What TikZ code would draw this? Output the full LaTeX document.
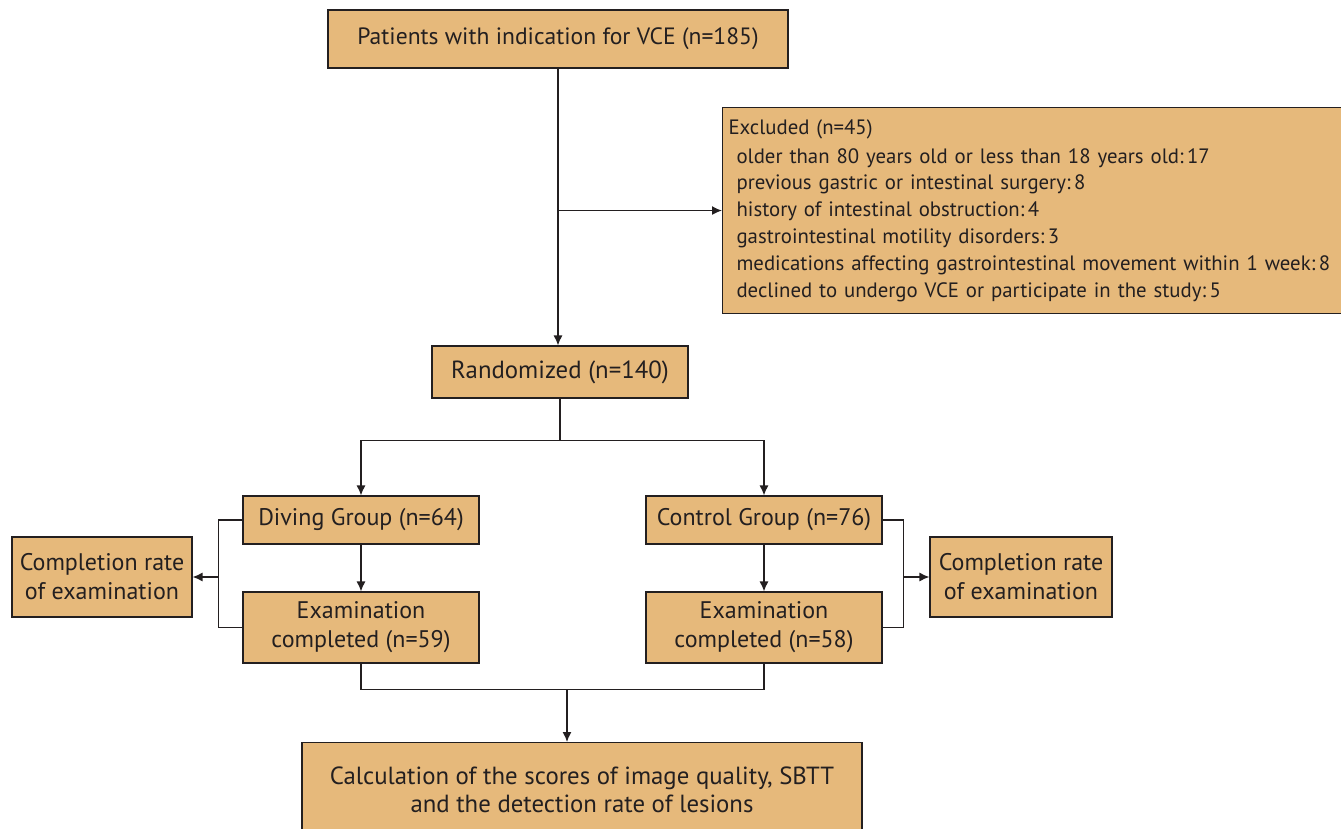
\documentclass[tikz,border=0pt]{standalone}
\usepackage{fontspec}
\setmainfont{PT Sans}
\usepackage{tikz}
\usetikzlibrary{arrows.meta, calc}
\usepackage{xcolor}
\definecolor{boxtan}{RGB}{230,185,123}
\definecolor{inkgray}{RGB}{35,31,32}
\tikzset{
    flowbox/.style={draw=inkgray, fill=boxtan, line width=0.55pt, align=center, text=inkgray, inner sep=2pt, font=\fontsize{12}{14.5}\selectfont},
    flowline/.style={draw=inkgray, line width=0.65pt},
    flowarrow/.style={flowline, -{Latex[length=5pt,width=4.5pt]}}
}

\begin{document}
\begin{tikzpicture}[x=0.5pt, y=-0.5pt]
    \useasboundingbox (0,0) rectangle (1341,829);
    % boxes
    \node[flowbox, minimum width=230pt, minimum height=29pt, font=\fontsize{11.8}{14.5}\selectfont] (patients) at (558,39) {Patients with indication for VCE (n=185)};
    \node[flowbox, anchor=north west, minimum width=330pt, minimum height=103pt, align=left, text width=324pt, inner sep=1pt, font=\fontsize{10.4}{13.4}\selectfont] (excl) at (722,107)
        {Excluded (n=45)\\[1pt]
         \hspace*{4pt}older than 80 years old or less than 18 years old:\,17\\
         \hspace*{4pt}previous gastric or intestinal surgery:\,8\\
         \hspace*{4pt}history of intestinal obstruction:\,4\\
         \hspace*{4pt}gastrointestinal motility disorders:\,3\\
         \hspace*{4pt}medications affecting gastrointestinal movement within 1 week:\,8\\
         \hspace*{4pt}declined to undergo VCE or participate in the study:\,5};
    \node[flowbox, minimum width=128pt, minimum height=26pt, font=\fontsize{12.4}{14.5}\selectfont] (rand) at (560,372) {Randomized (n=140)};
    \node[flowbox, minimum width=118pt, minimum height=24pt] (dive) at (361,520) {Diving Group (n=64)};
    \node[flowbox, minimum width=118pt, minimum height=24pt] (ctrl) at (764,520) {Control Group (n=76)};
    \node[flowbox, minimum width=118pt, minimum height=35.5pt] (examL) at (361,627.5) {Examination\\completed (n=59)};
    \node[flowbox, minimum width=118pt, minimum height=35.5pt] (examR) at (764,627.5) {Examination\\completed (n=58)};
    \node[flowbox, minimum width=90pt, minimum height=40pt] (compL) at (102,577) {Completion rate\\of examination};
    \node[flowbox, minimum width=91pt, minimum height=40pt] (compR) at (1021,577) {Completion rate\\of examination};
    \node[flowbox, anchor=north, minimum width=280pt, minimum height=47pt, font=\fontsize{12.4}{14}\selectfont] (calc) at (582,742) {Calculation of the scores of image quality, SBTT\\and the detection rate of lesions};

    % connectors
    \draw[flowarrow] (patients.south) -- (patients.south |- rand.north);
    \draw[flowarrow] (patients.south |- excl.west) -- (excl.west);
    \draw[flowline] (rand.south) -- ++(0,42) coordinate (split);
    \draw[flowarrow] (split) -| (dive.north);
    \draw[flowarrow] (split) -| (ctrl.north);
    \draw[flowarrow] (dive) -- (examL);
    \draw[flowarrow] (ctrl) -- (examR);
    \draw[flowline] (dive.west) -- ++(-24,0) coordinate (bl) |- (examL.west);
    \draw[flowarrow] (bl |- compL.east) -- (compL.east);
    \draw[flowline] (ctrl.east) -- ++(21,0) coordinate (br) |- (examR.east);
    \draw[flowarrow] (br |- compR.west) -- (compR.west);
    \draw[flowline] (examL.south) -- ++(0,26) -| (examR.south);
    \coordinate (join) at (567,689);
    \draw[flowarrow] (join) -- (join |- calc.north);
\end{tikzpicture}
\end{document}
